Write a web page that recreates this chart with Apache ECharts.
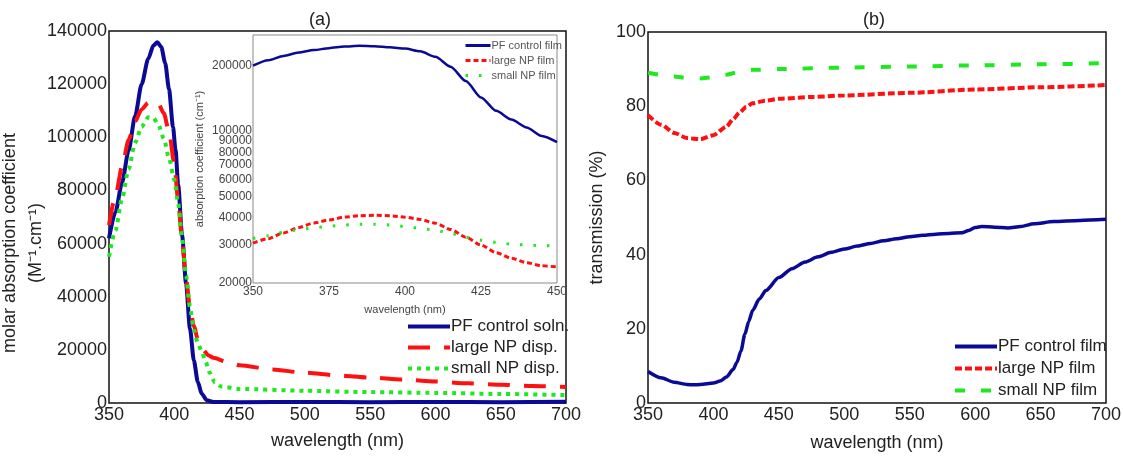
<!DOCTYPE html>
<html>
<head>
<meta charset="utf-8">
<title>PF absorption / transmission</title>
<script src="https://cdn.jsdelivr.net/npm/echarts@6/dist/echarts.min.js"></script>
<style>
  html, body { margin: 0; padding: 0; background: #fff; }
  #chart { width: 1123px; height: 458px; }
</style>
</head>
<body>
<div id="chart"></div>
<script>
// (a) main: molar absorption coefficient of the dispersions
var pfSolnWl  = [350, 355, 360, 365, 370, 375, 380, 384, 387, 390, 393, 396, 399, 401, 403, 406, 409, 412, 415, 418, 421, 425, 430, 450, 500, 550, 600, 650, 700];
var pfSolnAbs = [62000, 72000, 83000, 95000, 108000, 120000, 129500, 134500, 135800, 134000, 128000, 118000, 104000, 95000, 82000, 63000, 45000, 28000, 16000, 8000, 3500, 1000, 400, 300, 400, 300, 400, 300, 500];

var largeDispWl  = [350, 355, 360, 365, 370, 375, 380, 384, 388, 392, 396, 400, 403, 406, 409, 412, 415, 418, 422, 426, 430, 440, 450, 475, 500, 525, 550, 575, 600, 625, 650, 675, 700];
var largeDispAbs = [67000, 78000, 89000, 99000, 106000, 110500, 113000, 113500, 112500, 109000, 102000, 90000, 76000, 61000, 47000, 36000, 29000, 24000, 20000, 18000, 17000, 15500, 14200, 12600, 11400, 10400, 9600, 8800, 8100, 7400, 6900, 6400, 6000];

var smallDispWl  = [350, 355, 360, 365, 370, 375, 380, 384, 388, 392, 396, 400, 403, 406, 409, 412, 415, 418, 421, 424, 427, 431, 436, 450, 500, 550, 600, 650, 700];
var smallDispAbs = [55000, 65000, 77000, 88000, 98000, 104000, 107500, 107300, 104500, 99500, 92000, 84000, 75000, 62000, 48000, 36000, 27500, 22500, 19500, 15500, 11500, 7800, 6200, 5300, 4600, 4100, 3800, 3400, 3000];

// (a) inset: absorption coefficient of the films (log axis)
var insetWl      = [350, 355, 360, 365, 370, 375, 380, 385, 390, 395, 400, 405, 410, 415, 420, 425, 430, 435, 440, 445, 450];
var pfFilmAbs    = [200000, 212000, 222000, 230000, 236000, 241000, 245000, 247000, 246000, 243000, 240000, 233000, 220000, 198000, 170000, 143000, 124000, 113000, 104000, 95000, 89000];
var largeFilmAbs = [30500, 32000, 34000, 36000, 37800, 39000, 40200, 40800, 41000, 40800, 40200, 39200, 37700, 35300, 32500, 29900, 27600, 26000, 24800, 24000, 23700];
var smallFilmAbs = [32000, 33000, 34200, 35200, 35900, 36500, 37000, 37300, 37300, 37000, 36400, 35700, 35000, 33800, 32500, 31500, 30800, 30200, 29900, 29700, 29600];
var insetLogTicks = [20000, 30000, 40000, 50000, 60000, 70000, 80000, 90000, 100000, 200000];

// (b) transmission of the films
var pfTransWl = [350, 360, 370, 380, 385, 390, 400, 405, 410, 415, 418, 421, 424, 427, 430, 435, 440, 450, 460, 470, 480, 490, 500, 510, 520, 530, 540, 550, 560, 570, 580, 590, 595, 600, 605, 615, 625, 635, 645, 660, 680, 700];
var pfTrans   = [8.5, 6.8, 5.6, 5.0, 4.9, 5.0, 5.4, 5.9, 7.0, 9.0, 11, 14, 18.5, 22, 25, 28, 30.3, 33.8, 36.2, 38.0, 39.4, 40.6, 41.5, 42.3, 43.0, 43.7, 44.3, 44.8, 45.2, 45.5, 45.7, 45.9, 46.5, 47.3, 47.6, 47.4, 47.2, 47.6, 48.3, 48.9, 49.2, 49.5];

var largeTransWl = [350, 360, 370, 380, 390, 400, 410, 415, 420, 425, 430, 440, 450, 475, 500, 550, 600, 650, 700];
var largeTrans   = [77.6, 75, 72.8, 71.4, 71.1, 72.2, 74.5, 76.5, 78.3, 79.8, 80.8, 81.5, 82, 82.5, 82.9, 83.6, 84.5, 85.1, 85.7];

var smallTransWl = [350, 360, 370, 380, 390, 400, 410, 420, 430, 450, 500, 550, 600, 650, 700];
var smallTrans   = [89, 88.5, 88, 87.6, 87.5, 87.8, 88.5, 89.3, 89.8, 90.0, 90.4, 90.7, 91.0, 91.3, 91.6];

var FONT = 'Liberation Sans, Arial, sans-serif';
var BLUE = '#0a0a96', RED = '#ff1010', GREEN = '#1ee81e';

function pairs(xs, ys) {
    return xs.map(function (x, i) { return [x, ys[i]]; });
}
function plain(v) { return String(Math.round(v)); }

function line(name, xi, yi, xs, ys, color, width, dash) {
    return {
        name: name, type: 'line', xAxisIndex: xi, yAxisIndex: yi,
        data: pairs(xs, ys), symbol: 'none', smooth: 0.25, smoothMonotone: 'x',
        lineStyle: { color: color, width: width, type: dash || 'solid', cap: 'butt' },
        itemStyle: { color: color },
        z: 3
    };
}

function valueX(grid, min, max, step, size, nameSize, gap) {
    var col = grid === 1 ? '#444' : '#222';
    return {
        type: 'value', gridIndex: grid, min: min, max: max, interval: step,
        name: 'wavelength (nm)', nameLocation: 'middle', nameGap: gap,
        nameTextStyle: { fontFamily: FONT, fontSize: nameSize, color: col },
        axisLine: { show: false }, axisTick: { show: false }, splitLine: { show: false },
        axisLabel: { fontFamily: FONT, fontSize: size, color: col, margin: 3,
                     formatter: plain, hideOverlap: false, showMinLabel: true, showMaxLabel: true }
    };
}

// legend: line only, hide the marker drawn in the middle of the icon
function legendBox(left, top, names, w, h, gap, size, col, lw) {
    return {
        orient: 'vertical', left: left, top: top, itemWidth: w, itemHeight: h, itemGap: gap,
        data: names, itemStyle: { opacity: 0 }, lineStyle: { width: lw },
        textStyle: { fontFamily: FONT, fontSize: size, color: col, padding: [0, 0, 0, -4] }
    };
}

var myChart = echarts.init(document.getElementById('chart'));

var option = {
    backgroundColor: '#fff',
    animation: false,
    title: [
        { text: '(a)', left: 315, top: 6, textAlign: 'center',
          textStyle: { fontFamily: FONT, fontSize: 18, fontWeight: 'normal', color: '#222' } },
        { text: '(b)', left: 869, top: 6, textAlign: 'center',
          textStyle: { fontFamily: FONT, fontSize: 18, fontWeight: 'normal', color: '#222' } }
    ],
    grid: [
        { left: 109, top: 31, width: 457, height: 372, show: true, borderColor: '#111', borderWidth: 1.5,
          backgroundColor: '#fff', outerBoundsMode: 'none' },
        { left: 253, top: 35, width: 304, height: 248, show: true, borderColor: '#8a8a8a', borderWidth: 1,
          backgroundColor: '#fff', outerBoundsMode: 'none' },
        { left: 648, top: 32, width: 458, height: 371, show: true, borderColor: '#111', borderWidth: 1.5,
          backgroundColor: '#fff', outerBoundsMode: 'none' }
    ],
    xAxis: [
        valueX(0, 350, 700, 50, 18, 18, 29),
        valueX(1, 350, 450, 25, 12, 11, 21),
        valueX(2, 350, 700, 50, 18, 18, 31)
    ],
    yAxis: [
        {
            type: 'value', gridIndex: 0, min: 0, max: 140000, interval: 20000,
            axisLine: { show: false }, axisTick: { show: false }, splitLine: { show: false },
            axisLabel: { fontFamily: FONT, fontSize: 18, color: '#222', margin: 2, formatter: plain, hideOverlap: false }
        },
        {
            type: 'log', gridIndex: 1, min: 20000, max: 277000, logBase: 10,
            name: 'absorption coefficient (cm⁻¹)', nameLocation: 'middle', nameGap: 48,
            nameTextStyle: { fontFamily: FONT, fontSize: 11, color: '#444' },
            axisLine: { show: false }, axisTick: { show: false }, splitLine: { show: false },
            axisLabel: { fontFamily: FONT, fontSize: 12, color: '#444', margin: 1, formatter: plain,
                         hideOverlap: false, customValues: insetLogTicks }
        },
        {
            type: 'value', gridIndex: 2, min: 0, max: 100, interval: 20,
            name: 'transmission (%)', nameLocation: 'middle', nameGap: 42,
            nameTextStyle: { fontFamily: FONT, fontSize: 18, color: '#222' },
            axisLine: { show: false }, axisTick: { show: false }, splitLine: { show: false },
            axisLabel: { fontFamily: FONT, fontSize: 18, color: '#222', margin: 2, formatter: plain, hideOverlap: false }
        }
    ],
    legend: [
        legendBox(401, 313, ['PF control soln.', 'large NP disp.', 'small NP disp.'], 42, 16, 4, 17, '#222', 4),
        legendBox(459, 35, ['PF control film ', 'large NP film ', 'small NP film '], 25, 10, 4, 11, '#555', 3),
        legendBox(948, 333, ['PF control film', 'large NP film', 'small NP film'], 42, 16, 5, 17, '#222', 4)
    ],
    graphic: [
        { type: 'text', x: 23, y: 243, rotation: Math.PI / 2, z: 10,
          style: { text: 'molar absorption coefficient\n(M⁻¹.cm⁻¹)', font: '18px ' + FONT,
                   fill: '#222', align: 'center', verticalAlign: 'middle', lineHeight: 26 } }
    ],
    series: [
        line('PF control soln.', 0, 0, pfSolnWl, pfSolnAbs, BLUE, 4),
        line('large NP disp.', 0, 0, largeDispWl, largeDispAbs, RED, 4, [22, 14]),
        line('small NP disp.', 0, 0, smallDispWl, smallDispAbs, GREEN, 4, [4, 5]),

        line('PF control film ', 1, 1, insetWl, pfFilmAbs, BLUE, 2.5),
        line('large NP film ', 1, 1, insetWl, largeFilmAbs, RED, 3, [5, 3]),
        line('small NP film ', 1, 1, insetWl, smallFilmAbs, GREEN, 3, [2.5, 11]),

        line('PF control film', 2, 2, pfTransWl, pfTrans, BLUE, 3.5),
        line('large NP film', 2, 2, largeTransWl, largeTrans, RED, 4, [7, 3]),
        line('small NP film', 2, 2, smallTransWl, smallTrans, GREEN, 4, [10, 16])
    ]
};

myChart.setOption(option);
</script>
</body>
</html>
